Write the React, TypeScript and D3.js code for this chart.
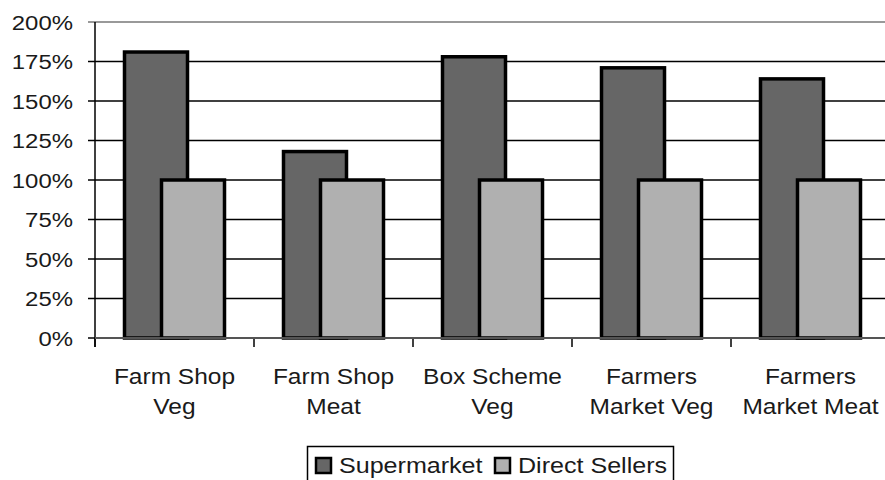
import React from "react";
import * as d3 from "d3";

const categories: string[][] = [
  ["Farm Shop", "Veg"],
  ["Farm Shop", "Meat"],
  ["Box Scheme", "Veg"],
  ["Farmers", "Market Veg"],
  ["Farmers", "Market Meat"],
];
const supermarket = [181, 118, 178, 171, 164];
const directSellers = [100, 100, 100, 100, 100];
const yTicks = [0, 25, 50, 75, 100, 125, 150, 175, 200];
const seriesNames = ["Supermarket", "Direct Sellers"];
const colors = ["#666666", "#b0b0b0"];

const SX = 1.14;

function T(props: { x: number; y: number; anchor: string; size: number; children: React.ReactNode }) {
  return (
    <text
      transform={`translate(${props.x},${props.y}) scale(${SX},1)`}
      textAnchor={props.anchor}
      fontSize={props.size}
      fill="#1a1a1a"
    >
      {props.children}
    </text>
  );
}

export default function App() {
  const W = 885, H = 480;
  const left = 95, right = 890, top = 22, bottom = 338;
  const x = d3.scaleBand<number>().domain(d3.range(categories.length)).range([left, right]);
  const y = d3.scaleLinear().domain([0, 200]).range([bottom, top]);
  const barW = 63;
  const offset = 37;
  const font = "'Liberation Sans', Arial, sans-serif";
  return (
    <div style={{ position: "absolute", left: 0, top: 0 }}>
      <svg width={W} height={H} style={{ display: "block" }} fontFamily={font}>
        <rect width={W} height={H} fill="#fff" />
        {yTicks.map((t) => (
          <g key={t}>
            <line x1={left - 7} x2={right} y1={y(t)} y2={y(t)} stroke={t === 200 ? "#777" : "#000"} strokeWidth={1.5} />
            <T x={73} y={y(t) + 7.5} anchor="end" size={21}>{t}%</T>
          </g>
        ))}
        <line x1={left} x2={left} y1={top} y2={bottom + 9} stroke="#000" strokeWidth={1.5} />
        {d3.range(categories.length + 1).map((i) => {
          const xx = left + i * x.bandwidth();
          return <line key={i} x1={xx} x2={xx} y1={bottom} y2={bottom + 9} stroke="#000" strokeWidth={1.5} />;
        })}
        {categories.map((c, i) => {
          const cx = (x(i) as number) + x.bandwidth() / 2;
          const x0 = cx - (barW + offset) / 2;
          return (
            <g key={i}>
              <rect x={x0} y={y(supermarket[i])} width={barW} height={bottom - y(supermarket[i])} fill={colors[0]} stroke="#000" strokeWidth={3.5} />
              <rect x={x0 + offset} y={y(directSellers[i])} width={barW} height={bottom - y(directSellers[i])} fill={colors[1]} stroke="#000" strokeWidth={3.5} />
              {c.map((line, k) => (
                <T key={k} x={cx} y={383.5 + k * 30} anchor="middle" size={21.5}>{line}</T>
              ))}
            </g>
          );
        })}
        <line x1={left} x2={right} y1={bottom} y2={bottom} stroke="#555" strokeWidth={2} />
        <rect x={307.5} y={446.5} width={366} height={40} fill="#fff" stroke="#000" strokeWidth={1.5} />
        {seriesNames.map((s, i) => {
          const lx = [316, 495][i];
          return (
            <g key={s}>
              <rect x={lx} y={458} width={15} height={15} fill={colors[i]} stroke="#000" strokeWidth={2.5} />
              <T x={lx + 23} y={473} anchor="start" size={22}>{s}</T>
            </g>
          );
        })}
      </svg>
    </div>
  );
}
